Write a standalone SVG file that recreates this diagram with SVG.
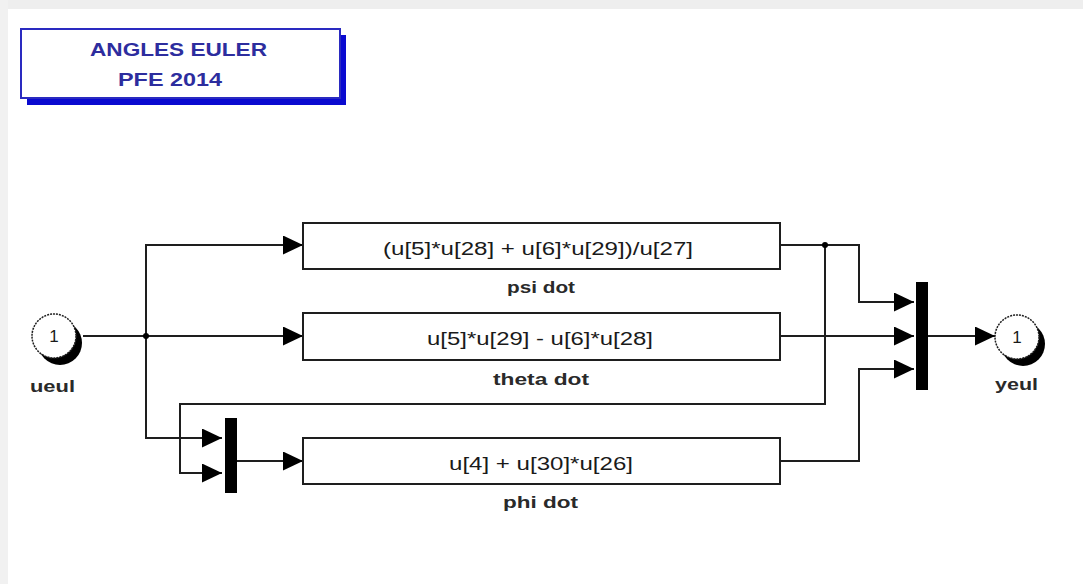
<svg xmlns="http://www.w3.org/2000/svg" width="1083" height="584" viewBox="0 0 1083 584">
  <defs>
    <style>
      .wire { fill: none; stroke: #1e1e1e; stroke-width: 2; }
      .blk { fill: #ffffff; stroke: #1e1e1e; stroke-width: 2; }
      .bar { fill: #000000; }
      .expr { font-family: "Liberation Sans", Arial, sans-serif; font-size: 18px; fill: #1a1a1a; }
      .name { font-family: "Liberation Sans", Arial, sans-serif; font-size: 17px; font-weight: bold; fill: #2a2a2a; }
      .num { font-family: "Liberation Sans", Arial, sans-serif; font-size: 17px; fill: #1a1a1a; text-anchor: middle; }
      .note { font-family: "Liberation Sans", Arial, sans-serif; font-size: 19px; font-weight: bold; fill: #2d2d9e; }
    </style>
    <marker id="arrow" markerWidth="20" markerHeight="19" refX="20" refY="9.5" orient="auto" markerUnits="userSpaceOnUse">
      <path d="M0,0 L20,9.5 L0,19 Z" fill="#000000"/>
    </marker>
  </defs>

  <!-- canvas -->
  <rect x="0" y="0" width="1083" height="584" fill="#ffffff"/>
  <rect x="0" y="0" width="1083" height="9" fill="#eeeeee"/>
  <rect x="0" y="0" width="8" height="584" fill="#f1f1f1"/>

  <!-- annotation -->
  <g id="annotation">
    <rect x="27" y="35" width="319" height="70" fill="#0a0ad0"/>
    <rect x="21" y="29" width="319" height="69" fill="#ffffff" stroke="#2a2ac0" stroke-width="2"/>
    <text class="note" x="90" y="56" textLength="177" lengthAdjust="spacingAndGlyphs">ANGLES EULER</text>
    <text class="note" x="118" y="86" textLength="104" lengthAdjust="spacingAndGlyphs">PFE 2014</text>
  </g>

  <!-- connectors -->
  <g id="connectors">
    <!-- inport to theta dot -->
    <path class="wire" d="M83,336 L303,336" marker-end="url(#arrow)"/>
    <!-- branch feeding psi dot and mux -->
    <path class="wire" d="M146,336 L146,245 L303,245" marker-end="url(#arrow)"/>
    <path class="wire" d="M146,336 L146,438 L222,438" marker-end="url(#arrow)"/>
    <!-- psi dot fed back into mux -->
    <path class="wire" d="M825,245 L825,404 L180,404 L180,473 L222,473" marker-end="url(#arrow)"/>
    <!-- mux to phi dot -->
    <path class="wire" d="M237,461 L303,461" marker-end="url(#arrow)"/>
    <!-- outputs into right mux -->
    <path class="wire" d="M780,245 L859,245 L859,302 L914,302" marker-end="url(#arrow)"/>
    <path class="wire" d="M780,336 L914,336" marker-end="url(#arrow)"/>
    <path class="wire" d="M780,461 L859,461 L859,369 L914,369" marker-end="url(#arrow)"/>
    <!-- mux to outport -->
    <path class="wire" d="M928,336 L995,336" marker-end="url(#arrow)"/>
    <!-- branch points -->
    <circle cx="146" cy="336" r="3" fill="#000000"/>
    <circle cx="825" cy="245" r="3" fill="#000000"/>
  </g>

  <!-- inport -->
  <g id="ueul">
    <circle cx="60" cy="343" r="22" fill="#000000"/>
    <circle cx="54" cy="336" r="22" fill="#ffffff" stroke="#1e1e1e" stroke-width="1.5" stroke-dasharray="2 1"/>
    <text class="num" x="54" y="342">1</text>
    <text class="name" x="30" y="392" textLength="45" lengthAdjust="spacingAndGlyphs">ueul</text>
  </g>

  <!-- Fcn blocks -->
  <g id="psi_dot">
    <rect class="blk" x="303" y="223" width="477" height="46"/>
    <text class="expr" x="383" y="255" textLength="310" lengthAdjust="spacingAndGlyphs">(u[5]*u[28] + u[6]*u[29])/u[27]</text>
    <text class="name" x="507" y="293" textLength="68" lengthAdjust="spacingAndGlyphs">psi dot</text>
  </g>

  <g id="theta_dot">
    <rect class="blk" x="303" y="313" width="477" height="47"/>
    <text class="expr" x="427" y="345" textLength="226" lengthAdjust="spacingAndGlyphs">u[5]*u[29] - u[6]*u[28]</text>
    <text class="name" x="493" y="385" textLength="96" lengthAdjust="spacingAndGlyphs">theta dot</text>
  </g>

  <g id="phi_dot">
    <rect class="blk" x="303" y="438" width="477" height="46"/>
    <text class="expr" x="449" y="470" textLength="184" lengthAdjust="spacingAndGlyphs">u[4] + u[30]*u[26]</text>
    <text class="name" x="503" y="508" textLength="75" lengthAdjust="spacingAndGlyphs">phi dot</text>
  </g>

  <!-- mux blocks -->
  <g id="mux_phi">
    <rect class="bar" x="225" y="418" width="12" height="75"/>
  </g>

  <g id="mux_out">
    <rect class="bar" x="916" y="282" width="12" height="108"/>
  </g>

  <!-- outport -->
  <g id="yeul">
    <circle cx="1023" cy="344" r="22" fill="#000000"/>
    <circle cx="1017" cy="337" r="22" fill="#ffffff" stroke="#1e1e1e" stroke-width="1.5" stroke-dasharray="2 1"/>
    <text class="num" x="1017" y="343">1</text>
    <text class="name" x="995" y="390" textLength="43" lengthAdjust="spacingAndGlyphs">yeul</text>
  </g>
</svg>
